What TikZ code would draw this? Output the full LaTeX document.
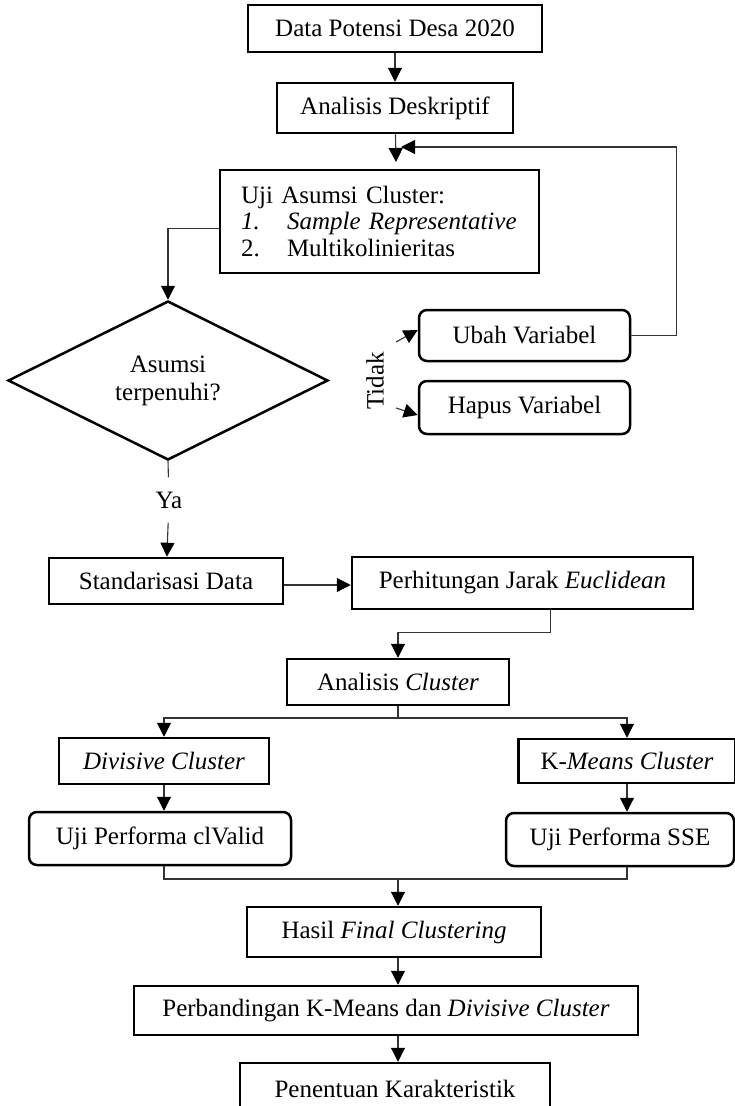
\documentclass[tikz,border=0pt]{standalone}
\usepackage{fontspec}
\setmainfont{Liberation Serif}
\usetikzlibrary{shapes.geometric, arrows.meta, positioning}

\begin{document}
\begin{tikzpicture}[x=1pt, y=-1pt,
    font=\fontsize{25}{29}\selectfont,
    box/.style={draw, line width=2.5pt, inner sep=0pt, align=center},
    rbox/.style={box, rounded corners=8pt},
    line/.style={draw, line width=1.1pt, black!80},
    arr/.style={line, -{Triangle[width=14pt,length=14pt,black]}}]
                \clip (0,0) rectangle (735,1106);
                % Start and assumption check
                \node[box, minimum width=294, minimum height=47] (data) at (395,28.5) {Data Potensi Desa 2020};
                \node[box, minimum width=236, minimum height=50] (desk) at (395,108) {Analisis Deskriptif};
                \node[box, minimum width=319, minimum height=103, align=left, text width=277, inner xsep=21pt] (uji) at (379.5,221.5)
                    {Uji Asumsi Cluster:\\[-2pt]
                     \makebox[46pt][l]{\textit{1.}}\textit{Sample Representative}\\[-2pt]
                     \makebox[46pt][l]{2.}Multikolinieritas};
                \node[draw, diamond, line width=2.5pt, inner sep=0pt, minimum width=320, minimum height=159, align=center] (asumsi) at (168,380.5) {Asumsi\\[-1pt] terpenuhi?};
                \node[rbox, minimum width=211, minimum height=51] (ubah) at (524.5,335.5) {Ubah Variabel};
                \node[rbox, minimum width=211, minimum height=53] (hapus) at (524.5,407.5) {Hapus Variabel};
                \node[rotate=90] (tidak) at (375,381) {Tidak};
                \node[inner sep=0pt, minimum height=45] (ya) at (169,500) {Ya};
                \coordinate (gap) at (396,162);
                \coordinate (back) at (401,147);
                \coordinate (tdk1) at (396,342);
                \coordinate (tdk2) at (396,408);
                \draw[arr] (data) -- (desk);
                \draw[arr] (desk) -- (gap);
                \draw[arr] (ubah.east) -- ++(45,0) |- (back);
                \draw[arr] ([yshift=-7pt]uji.west) -| (asumsi.north);
                \draw[arr] (tdk1) -- ([yshift=5.5pt]ubah.west);
                \draw[arr] (tdk2) -- ([yshift=-7.5pt]hapus.west);
                \draw[line] (asumsi.south) -- (ya);
                % Standardisation and distance
                \node[box, minimum width=234, minimum height=46] (std) at (166,581) {Standarisasi Data};
                \node[box, minimum width=341, minimum height=52] (jarak) at (522.5,583) {Perhitungan Jarak \textit{Euclidean}};
                \node[box, minimum width=222, minimum height=46] (clus) at (398,682) {Analisis \textit{Cluster}};
                \draw[arr] (ya) -- (std);
                \draw[arr] ([yshift=-4pt]std.east) -- ([yshift=-4pt]std.east -| jarak.west);
                \draw[arr] ([xshift=28pt]jarak.south) -- ++(0,22) -| (clus.north);
                % Two clustering methods
                \node[box, minimum width=210, minimum height=46] (div) at (164,761) {\textit{Divisive Cluster}};
                \node[box, minimum width=217, minimum height=44] (kmeans) at (627,761) {K-\textit{Means Cluster}};
                \node[rbox, minimum width=262, minimum height=53] (clvalid) at (160,838.5) {Uji Performa clValid};
                \node[rbox, minimum width=228, minimum height=53] (sse) at (620,839.5) {Uji Performa SSE};
                \coordinate (split) at (398,718);
                \coordinate (merge) at (398,879);
                \draw[line] (clus.south) -- (split);
                \draw[arr] (split) -| (div.north);
                \draw[arr] (split) -| (kmeans.north);
                \draw[arr] (div) -- (div.south |- clvalid.north);
                \draw[arr] (kmeans) -- (kmeans.south |- sse.north);
                \draw[line] (div.south |- clvalid.south) |- (merge) -| (kmeans.south |- sse.south);
                % Final results
                \node[box, minimum width=294, minimum height=50] (hasil) at (394,932) {Hasil \textit{Final Clustering}};
                \node[box, minimum width=504, minimum height=49] (banding) at (386,1010.5) {Perbandingan K-Means dan \textit{Divisive Cluster}};
                \node[box, minimum width=310, minimum height=52] (tentu) at (395,1089) {Penentuan Karakteristik};
                \draw[arr] (merge) -- (hasil.north -| merge);
                \draw[arr] (hasil.south -| merge) -- (banding.north -| merge);
                \draw[arr] (banding.south -| merge) -- (tentu.north -| merge);
\end{tikzpicture}
\end{document}
